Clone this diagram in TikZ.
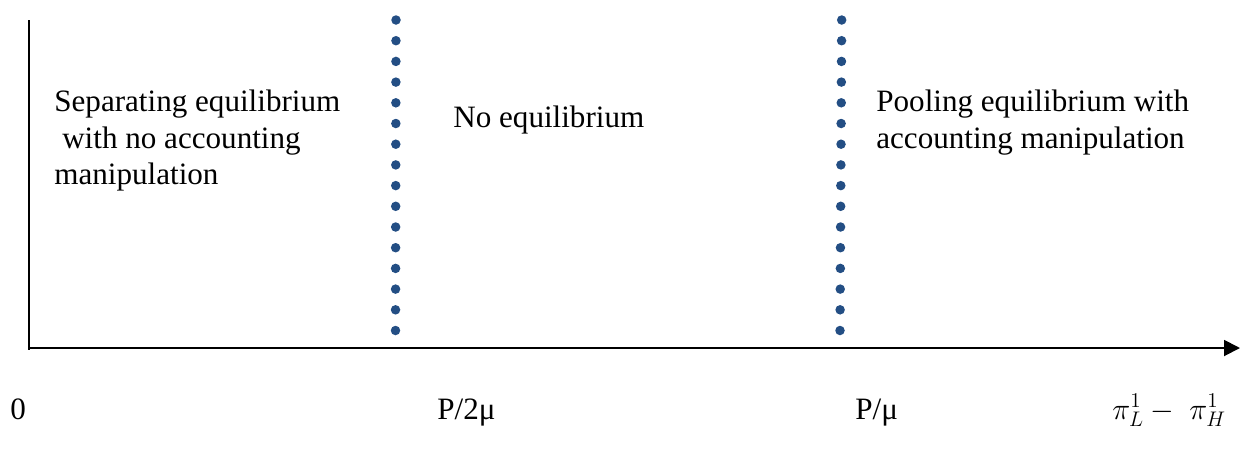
\documentclass[tikz,border=0pt]{standalone}
\usepackage{fontspec}
\setmainfont{Liberation Serif}
\usepackage{tikz}
\usetikzlibrary{arrows.meta,positioning}
\definecolor{figInk}{HTML}{000000}
\definecolor{dotBlue}{HTML}{234E84}
\tikzset{
  eqaxis/.style={draw=figInk, line width=1.1pt},
  eqarrow/.style={eqaxis, -{Triangle[length=3.2mm,width=3.2mm]}},
  eqbound/.style={draw=dotBlue, line width=1.9mm, line cap=round,
    dash pattern=on 0pt off 4.14mm},
  eqregion/.style={font=\fontsize{17.7}{20.6}\selectfont, text=figInk,
    align=left, inner sep=0pt},
  eqtick/.style={font=\fontsize{17.7}{20.6}\selectfont, text=figInk,
    inner sep=0pt, anchor=base west},
}

\begin{document}
\begin{tikzpicture}[x=0.2mm,y=-0.2mm]
  \path[use as bounding box] (0,0) rectangle (1248,459);

  % axes
  \coordinate (ytop) at (29,20);
  \coordinate (origin) at (29,350);
  \coordinate (xleft) at (29,348);
  \coordinate (xend) at (1240,348);
  \draw[eqaxis] (ytop) -- (origin);
  \draw[eqarrow] (xleft) -- (xend);

  % thresholds P/2mu and P/mu
  \coordinate (lowtop) at (396,20);
  \coordinate (lowbot) at (395.5,331);
  \coordinate (hightop) at (841.7,20);
  \coordinate (highbot) at (840,331);
  \draw[eqbound] (lowtop) -- (lowbot);
  \draw[eqbound] (hightop) -- (highbot);

  % regions
  \node[eqregion,anchor=north west] (separating) at (54,90)
    {Separating equilibrium\\\hspace*{4.5pt}with no accounting\\manipulation};
  \node[eqregion,anchor=base west] (none) at (453,127) {No equilibrium};
  \node[eqregion,anchor=north west] (pooling) at (876,90)
    {Pooling equilibrium with\\accounting manipulation};

  % tick labels
  \node[eqtick] (zero) at (10,419) {0};
  \node[eqtick] (half) at (437,419) {P/2μ};
  \node[eqtick] (full) at (855,419) {P/μ};
  \node[eqtick,font=\fontsize{18.6}{22}\selectfont] (gap) at (1112,419)
    {$\pi_L^1 -\ \pi_H^1$};
\end{tikzpicture}
\end{document}
